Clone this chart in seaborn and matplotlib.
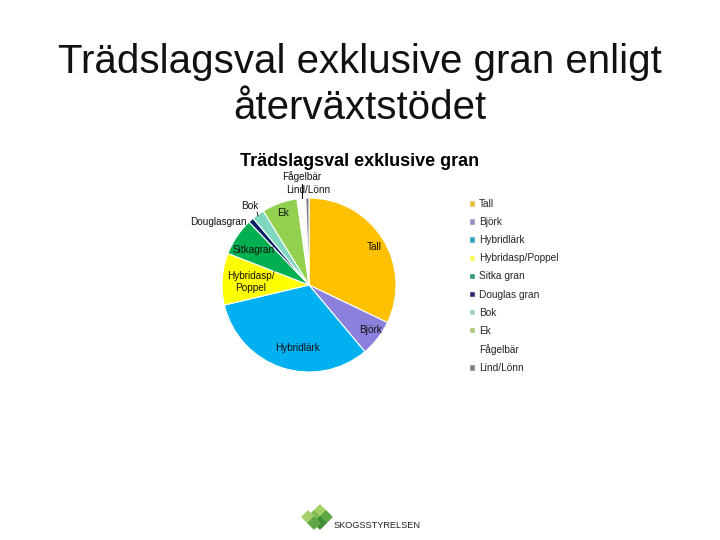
import matplotlib
matplotlib.use("Agg")
import matplotlib.pyplot as plt
import matplotlib.patches as mpatches
import seaborn as sns

species = ["Tall", "Björk", "Hybridlärk", "Hybridasp/Poppel", "Sitka gran",
           "Douglas gran", "Bok", "Ek", "Fågelbär", "Lind/Lönn"]
shares = [32.1, 6.8, 32.4, 9.6, 7.0, 1.0, 2.3, 6.6, 1.6, 0.6]
pie_colors = ["#FFC000", "#8B80DC", "#00B0F0", "#FFFF00", "#00B050",
              "#002060", "#7FD8BE", "#92D050", "#FFFFFF", "#7F7F7F"]
legend_colors = ["#E8BC3C", "#9490C4", "#2AA8C0", "#F8F850", "#2E9A70",
                 "#2A2A70", "#98D0B8", "#A8C878", "#FFFFFF", "#808080"]
slice_labels = ["Tall", "Björk", "Hybridlärk", "Hybridasp/\nPoppel", "Sitkagran",
                "Douglasgran", "Bok", "Ek", "Fågelbär", "Lind/Lönn"]
label_x = [374, 371, 297, 251, 254, 218, 250, 283, 302, 308]
label_y = [247, 330, 348, 282, 250, 222, 206, 213, 177, 190]

sns.set_theme(style="white")
plt.rcParams['font.family'] = ['Liberation Sans', 'DejaVu Sans']

fig = plt.figure(figsize=(7.2, 5.4), dpi=100)
ax = fig.add_axes([0, 0, 1, 1])

wedges, _ = ax.pie(shares, colors=sns.color_palette(pie_colors), startangle=90,
                   counterclock=False, center=(309, 540 - 285), radius=87,
                   wedgeprops={"edgecolor": "white", "linewidth": 0.8})
ax.set_xlim(0, 720)
ax.set_ylim(0, 540)
ax.set_aspect("equal")
ax.axis("off")

ax.text(360, 540 - 62, "Trädslagsval exklusive gran enligt", fontsize=29,
        ha="center", va="center", color="#111111")
ax.text(360, 540 - 108, "återväxtstödet", fontsize=29,
        ha="center", va="center", color="#111111")
ax.text(360, 540 - 161, "Trädslagsval exklusive gran", fontsize=13,
        fontweight="bold", ha="center", va="center", color="black")

for name, x, y in zip(slice_labels, label_x, label_y):
    ax.text(x, 540 - y, name, fontsize=7.2, ha="center", va="center",
            color="#111111", linespacing=1.2)

# leader lines to the small slices
ax.plot([302, 302], [540 - 184, 540 - 198], color="black", lw=0.8)
ax.plot([257, 258], [540 - 212, 540 - 216], color="black", lw=0.6)

handles = [mpatches.Patch(facecolor=c, label=s) for c, s in zip(legend_colors, species)]
ax.legend(handles=handles, loc="upper left", bbox_to_anchor=(469 / 720, 1 - 199 / 540),
          frameon=False, fontsize=7.3, labelspacing=0.8, handlelength=0.6,
          handleheight=0.6, handletextpad=0.4, borderpad=0, borderaxespad=0)

# logo
for cx, cy, col in [(320, 511, "#A5CF6B"), (314, 517, "#7DBB50"), (326, 517, "#5FA845"),
                    (320, 523, "#3E8E36"), (308, 517, "#A5CF6B"), (314, 523, "#5FA845")]:
    ax.add_patch(mpatches.RegularPolygon((cx, 540 - cy), 4, radius=6, color=col))
ax.text(334, 540 - 525, "SKOGSSTYRELSEN", fontsize=6.6, ha="left", va="center", color="#222222")

fig.savefig("out.png", dpi=100)
